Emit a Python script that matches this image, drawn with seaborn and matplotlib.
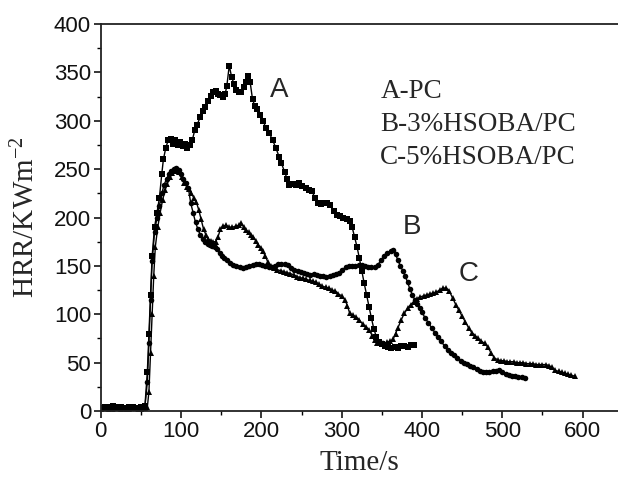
import numpy as np
import pandas as pd
import seaborn as sns
import matplotlib.pyplot as plt
from matplotlib.ticker import MultipleLocator

sns.set_style("ticks")
plt.rcParams['font.family'] = ['Liberation Sans', 'DejaVu Sans']
plt.rcParams['mathtext.fontset'] = 'custom'
plt.rcParams['mathtext.rm'] = 'Liberation Serif'
plt.rcParams['mathtext.it'] = 'Liberation Serif:italic'

# A-PC (squares)
time_a = [0, 5, 10, 15, 20, 25, 30, 35, 40, 45, 50, 55,
          58, 60, 62, 64, 67, 70, 73, 76, 78, 81, 84, 87, 90, 93, 96, 99, 102, 105, 108, 111,
          114, 117, 120, 124, 127, 130, 134, 137, 140, 143, 146, 149, 152, 155, 157, 160, 163,
          166, 169, 172, 175, 178, 181, 183, 186, 189, 192, 195, 198, 202, 206, 210, 214, 218,
          222, 225, 229, 232, 235, 239, 243, 247, 251, 255, 259, 263, 267, 270, 274, 278, 282,
          286, 290, 294, 298, 302, 306, 310, 313, 316, 319, 322, 325, 328, 331, 334, 337, 340,
          343, 346, 350, 354, 358, 362, 366, 370, 374, 378, 382, 386, 390]
hrr_a = [3, 4, 4, 5, 4, 4, 3, 4, 4, 3, 4, 5,
         40, 80, 120, 160, 190, 205, 220, 245, 260, 272, 280, 281, 276, 280, 275, 278, 274, 276, 272, 275,
         280, 290, 296, 304, 310, 314, 320, 326, 330, 331, 328, 327, 325, 328, 336, 357, 345,
         338, 332, 330, 330, 335, 340, 346, 340, 322, 315, 312, 306, 300, 292, 287, 280, 272,
         263, 256, 247, 240, 234, 235, 234, 236, 233, 230, 228, 227, 220, 215, 214, 215, 215,
         213, 207, 203, 202, 200, 198, 196, 190, 180, 170, 158, 145, 132, 120, 108, 96, 85,
         77, 71, 69, 67, 66, 65, 66, 65, 67, 67, 66, 68, 68]

# B-3%HSOBA/PC (circles)
time_b = [0, 5, 10, 15, 20, 25, 30, 35, 40, 45, 50, 55,
          58, 60, 62, 64, 67, 70, 73, 76, 79, 82, 85, 88, 91, 94, 97, 100, 103, 106, 109, 112,
          115, 118, 121, 124, 127, 130, 133, 136, 139, 142, 145, 148, 151, 154, 157, 161, 165,
          169, 173, 177, 181, 185, 189, 193, 197, 201, 205, 209, 213, 217, 221, 225, 229, 233,
          237, 241, 245, 249, 253, 257, 261, 265, 269, 273, 277, 281, 285, 289, 293, 297, 301,
          305, 309, 313, 317, 321, 325, 329, 333, 337, 341, 345, 349, 353, 357, 361, 364, 367,
          370, 373, 376, 379, 382, 385, 388, 391, 394, 397, 400, 404, 408, 412, 416, 420, 424,
          428, 432, 436, 440, 444, 448, 452, 456, 460, 464, 468, 472, 476, 480, 484, 488, 492,
          496, 500, 504, 508, 512, 516, 520, 524, 528]
hrr_b = [2, 3, 3, 2, 3, 3, 2, 3, 3, 2, 3, 4,
         30, 70, 115, 155, 185, 200, 212, 225, 234, 240, 245, 248, 250, 251, 249, 245, 240, 236, 231, 215,
         205, 195, 188, 182, 178, 175, 173, 172, 171, 170, 167, 163, 160, 158, 156, 153, 151,
         150, 149, 148, 149, 150, 151, 152, 152, 151, 150, 149, 149, 150, 152, 152, 152, 151,
         148, 146, 145, 144, 143, 142, 141, 142, 141, 140, 140, 139, 140, 141, 142, 143, 146,
         149, 150, 150, 150, 151, 151, 150, 149, 149, 149, 151, 156, 160, 163, 165, 166, 162,
         156, 150, 145, 140, 133, 126, 120, 115, 111, 106, 102, 96, 91, 86, 81, 77, 72,
         67, 63, 60, 58, 55, 52, 50, 49, 47, 45, 43, 41, 40, 40, 40, 41, 41,
         42, 40, 38, 37, 36, 36, 35, 35, 34]

# C-5%HSOBA/PC (triangles)
time_c = [0, 5, 10, 15, 20, 25, 30, 35, 40, 45, 50, 55,
          58, 60, 62, 64, 66, 68, 71, 74, 77, 80, 83, 86, 89, 92, 95, 98, 101, 104, 107, 110,
          113, 116, 119, 122, 125, 128, 131, 134, 137, 140, 143, 146, 149, 152, 156, 160, 164,
          168, 172, 175, 178, 181, 184, 187, 190, 193, 196, 199, 202, 205, 208, 212, 216, 220,
          224, 228, 232, 236, 240, 244, 248, 252, 256, 260, 264, 268, 272, 276, 280, 284, 288,
          292, 296, 300, 304, 307, 310, 314, 318, 322, 326, 330, 334, 338, 341, 344, 348, 352,
          356, 360, 364, 367, 370, 374, 378, 382, 386, 390, 394, 398, 402, 406, 410, 414, 418,
          422, 426, 430, 434, 438, 442, 446, 450, 454, 458, 462, 466, 470, 474, 478, 482, 486,
          490, 494, 498, 502, 506, 510, 514, 518, 522, 526, 530, 534, 538, 542, 546, 550, 554,
          558, 562, 566, 570, 574, 578, 582, 586, 590]
hrr_c = [2, 3, 2, 3, 3, 2, 3, 2, 3, 3, 2, 3,
         4, 20, 60, 100, 140, 170, 190, 205, 218, 228, 235, 242, 246, 248, 249, 247, 242, 236, 232, 229,
         225, 220, 216, 208, 198, 188, 182, 178, 176, 175, 175, 180, 188, 191, 192, 190, 190,
         191, 192, 194, 190, 187, 185, 182, 180, 176, 172, 169, 165, 160, 154, 150, 148, 146,
         145, 144, 143, 142, 141, 139, 138, 137, 136, 135, 134, 133, 131, 129, 128, 127, 125,
         124, 121, 119, 115, 109, 101, 99, 97, 94, 90, 87, 84, 78, 73, 70, 70, 70,
         71, 72, 74, 80, 86, 94, 101, 106, 110, 113, 116, 118, 119, 120, 121, 122, 123,
         125, 127, 127, 124, 117, 110, 104, 98, 92, 86, 81, 78, 75, 72, 70, 66, 60,
         55, 53, 52, 52, 51, 51, 51, 50, 50, 50, 49, 49, 49, 48, 48, 48, 48,
         47, 45, 42, 41, 40, 39, 38, 37, 36]

curve_letters = ["A", "B", "C"]
legend_lines = ["A-PC", "B-3%HSOBA/PC", "C-5%HSOBA/PC"]

fig = plt.figure(figsize=(6.18, 4.8), dpi=100)
ax = fig.add_axes([0.163, 0.1437, 0.837, 0.8063])

for t, v, mk, ms in [(time_a, hrr_a, 's', 3.8), (time_b, hrr_b, 'o', 4.0), (time_c, hrr_c, '^', 4.4)]:
    sns.lineplot(x=t, y=v, ax=ax, color='black', linewidth=1.0, marker=mk,
                 markersize=ms, markeredgewidth=0, markeredgecolor='black', sort=False)

ax.set_xlim(0, 644)
ax.set_ylim(0, 400)
ax.xaxis.set_major_locator(MultipleLocator(100))
ax.xaxis.set_minor_locator(MultipleLocator(50))
ax.yaxis.set_major_locator(MultipleLocator(50))
ax.yaxis.set_minor_locator(MultipleLocator(25))
ax.tick_params(which='major', direction='out', length=5, width=1.1, labelsize=16, color='black',
               labelcolor='#111111', pad=2)
ax.tick_params(which='minor', direction='out', length=3, width=1.0, color='black')

for side in ['left', 'bottom', 'top']:
    ax.spines[side].set_linewidth(1.3)
    ax.spines[side].set_color('#222222')
ax.spines['right'].set_visible(False)

serif = ['Liberation Serif', 'DejaVu Serif']
ax.set_xlabel("Time/s", fontsize=21, family=serif, labelpad=6)
ax.set_ylabel("HRR/KWm$^{\\mathrm{-2}}$", fontsize=21, family=serif, labelpad=10)

# curve letters
for letter, (lx, ly) in zip(curve_letters, [(222, 332), (387, 190), (458, 142)]):
    ax.text(lx, ly, letter, fontsize=20, ha='center', va='center')

for line, ly in zip(legend_lines, [330, 296, 262]):
    ax.text(348, ly, line, fontsize=19.5, family=serif, ha='left', va='center')

fig.savefig("out.png", dpi=100)
